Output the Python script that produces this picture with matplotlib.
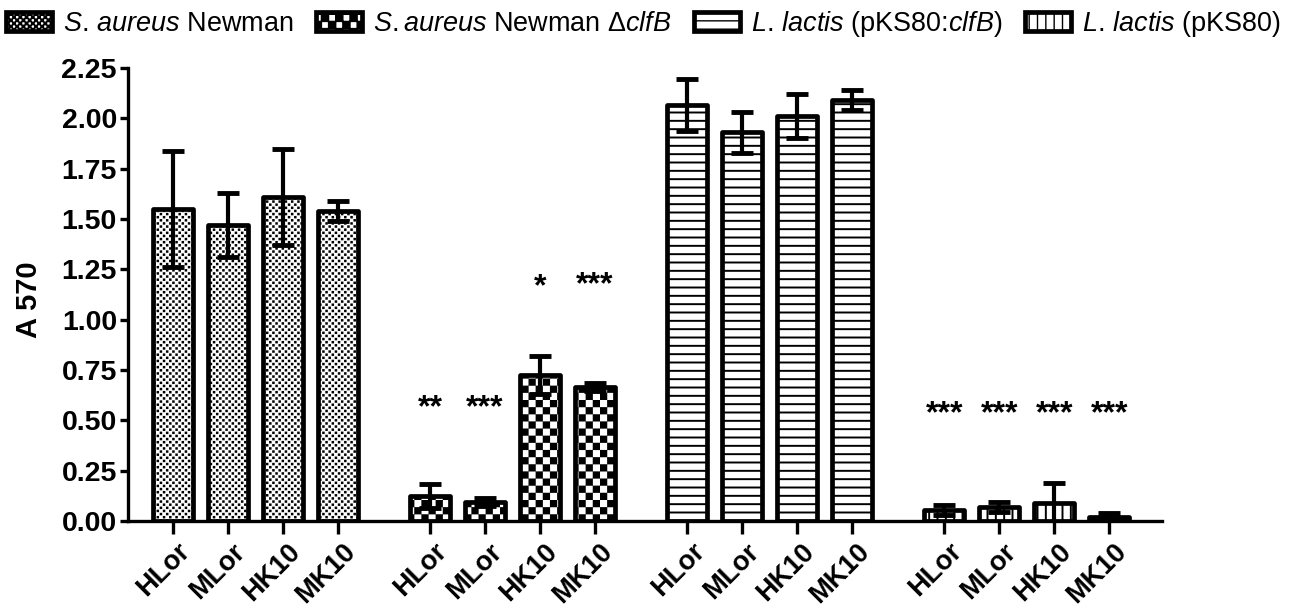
import warnings
warnings.filterwarnings('ignore')
import numpy as np
import matplotlib
matplotlib.use('Agg')
import matplotlib.pyplot as plt
from matplotlib import hatch as mhatch
from matplotlib.path import Path
import matplotlib.transforms as mtransforms

# ---------------- data ----------------
conditions = ['HLor', 'MLor', 'HK10', 'MK10']
strains = [r'$\it{S.\,aureus}$ Newman',
           r'$\it{S.aureus}$ Newman Δ$\it{clfB}$',
           r'$\it{L.\,lactis}$ (pKS80:$\it{clfB}$)',
           r'$\it{L.\,lactis}$ (pKS80)']
aureus_wt = [1.55, 1.47, 1.61, 1.54]
aureus_wt_err = [0.29, 0.16, 0.24, 0.05]
aureus_dclfb = [0.124, 0.096, 0.726, 0.667]
aureus_dclfb_err = [0.06, 0.02, 0.095, 0.02]
lactis_clfb = [2.066, 1.93, 2.01, 2.09]
lactis_clfb_err = [0.127, 0.10, 0.11, 0.05]
lactis_empty = [0.055, 0.07, 0.09, 0.02]
lactis_empty_err = [0.025, 0.025, 0.10, 0.02]
significance = [['', '', '', ''],
                ['**', '***', '*', '***'],
                ['', '', '', ''],
                ['***', '***', '***', '***']]
sig_y = [[0, 0, 0, 0],
         [0.60, 0.60, 1.20, 1.21],
         [0, 0, 0, 0],
         [0.57, 0.57, 0.57, 0.57]]
y_ticks = [0.00, 0.25, 0.50, 0.75, 1.00, 1.25, 1.50, 1.75, 2.00, 2.25]

values = [aureus_wt, aureus_dclfb, lactis_clfb, lactis_empty]
errors = [aureus_wt_err, aureus_dclfb_err, lactis_clfb_err, lactis_empty_err]

# ---------------- custom checkerboard hatches ----------------
class _CheckerBase(mhatch.HatchPatternBase):
    char = 'k'
    frac = 1.0

    def __init__(self, hatch, density):
        self.n = 2 * hatch.count(self.char)
        if self.n:
            self.num_squares = self.n * self.n // 2
            self.num_vertices = self.num_squares * 5
        else:
            self.num_squares = 0
            self.num_vertices = 0

    def set_vertices_and_codes(self, vertices, codes):
        n = self.n
        s = 1.0 / n
        d = s * (1 - self.frac) / 2
        e = s - d
        sq = np.array([[d, d], [e, d], [e, e], [d, e], [d, d]], dtype=float)
        parts = []
        for i in range(n):
            for j in range(n):
                if (i + j) % 2 == 0:
                    parts.append(sq + [i * s, j * s])
        vertices[:] = np.concatenate(parts)
        c = np.array([Path.MOVETO, Path.LINETO, Path.LINETO, Path.LINETO,
                      Path.CLOSEPOLY], dtype=Path.code_type)
        codes[:] = np.tile(c, self.num_squares)


class CheckerHatch(_CheckerBase):
    char = 'k'
    frac = 1.0


class FineCheckerHatch(_CheckerBase):
    char = 'q'
    frac = 0.8


mhatch._hatch_types.append(CheckerHatch)
mhatch._hatch_types.append(FineCheckerHatch)

# ---------------- style ----------------
plt.rcParams['font.family'] = ['Liberation Sans', 'DejaVu Sans']
plt.rcParams['mathtext.fontset'] = 'custom'
plt.rcParams['mathtext.rm'] = 'Liberation Sans'
plt.rcParams['mathtext.it'] = 'Liberation Sans:italic'
plt.rcParams['mathtext.bf'] = 'Liberation Sans:bold'

hatches = ['q' * 16, 'k' * 7, '--', '||']
hatch_lw = [0.0, 0.1, 1.4, 1.4]

fig = plt.figure(figsize=(12.96, 6.13), dpi=100)
ax = fig.add_axes([128 / 1296, 92 / 613, (1162 - 128) / 1296, (521 - 68) / 613])

group_gap = 4.68
bar_w = 0.73
handles = []
for g in range(4):
    x = g * group_gap + np.arange(len(conditions))
    with plt.rc_context({'hatch.linewidth': hatch_lw[g]}):
        bars = ax.bar(x, values[g], width=bar_w, color='white', edgecolor='black',
                      linewidth=3.4, hatch=hatches[g], joinstyle='round', zorder=2,
                      label=strains[g])
        for b in bars:
            if hasattr(b, 'set_hatch_linewidth'):
                b.set_hatch_linewidth(hatch_lw[g])
    handles.append(bars)
    ax.errorbar(x, values[g], yerr=errors[g], fmt='none', ecolor='black',
                elinewidth=3, capsize=8, capthick=3.5, zorder=3)
    for i, s in enumerate(significance[g]):
        if s:
            ax.annotate(s, (x[i], sig_y[g][i]), xytext=(0, -0.5 * 23),
                        textcoords='offset points', ha='center', va='baseline',
                        fontsize=23, fontweight='bold')

all_x = np.concatenate([g * group_gap + np.arange(len(conditions)) for g in range(4)])
ax.set_xticks(all_x)
ax.set_xticklabels(conditions * 4, rotation=45, ha='right', va='top',
                   rotation_mode='anchor', fontsize=19.5, fontweight='bold')
ax.set_xlim(-0.82, 3 * group_gap + 3 + 0.96)
ax.set_ylim(0, 2.25)
ax.set_yticks(y_ticks)
ax.set_yticklabels([f'{v:.2f}' for v in y_ticks], fontsize=20.5, fontweight='bold')
ax.set_ylabel('A 570', fontsize=21, fontweight='bold')
ax.yaxis.set_label_coords(-0.082, 0.488)

for side in ['top', 'right']:
    ax.spines[side].set_visible(False)
for side in ['left', 'bottom']:
    ax.spines[side].set_linewidth(2.4)
ax.tick_params(axis='y', length=6, width=2.4, pad=2)
ax.tick_params(axis='x', length=9.5, width=2.4, pad=3)

offset = mtransforms.ScaledTranslation(4 / 100, 0, fig.dpi_scale_trans)
for lab in ax.get_xticklabels():
    lab.set_transform(lab.get_transform() + offset)

leg = fig.legend(handles=handles, labels=strains, loc='upper left',
                 bbox_to_anchor=(6 / 1296, 1 - 9 / 613), ncol=4, frameon=False,
                 borderpad=0, borderaxespad=0, handlelength=1.7, handleheight=0.74,
                 handletextpad=0.4, columnspacing=0.85, fontsize=19.45)

fig.savefig('out.png', dpi=100)
